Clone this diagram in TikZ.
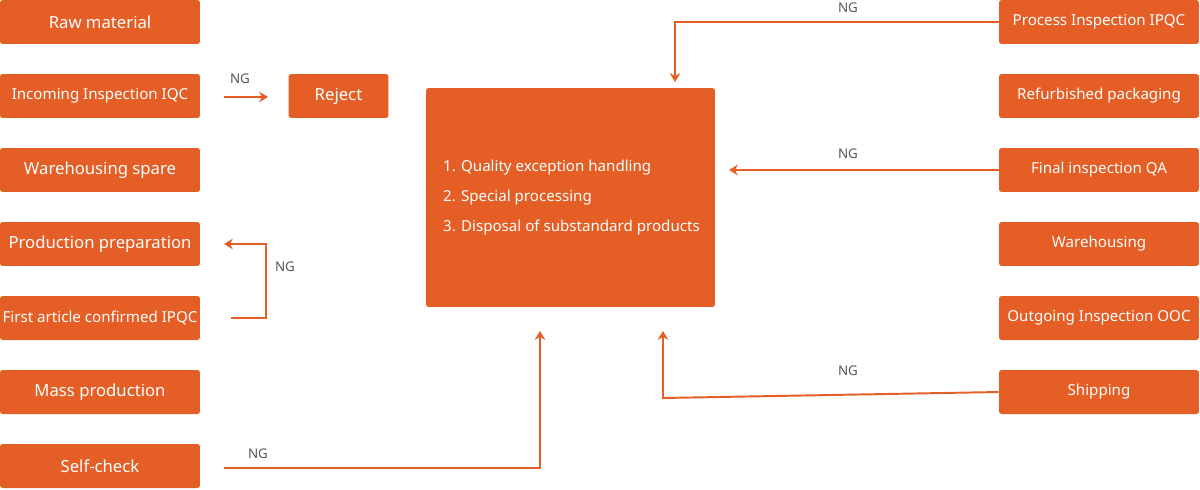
\documentclass[tikz,border=0pt]{standalone}
\usepackage{fontspec}
\setmainfont{Noto Sans}
\usetikzlibrary{arrows.meta, positioning, calc}
\definecolor{qorange}{HTML}{E55E25}
\definecolor{nggray}{HTML}{555555}

\begin{document}
\begin{tikzpicture}[
          x=0.02cm, y=-0.02cm,
          stage/.style={rectangle, rounded corners=1.5pt, fill=qorange, text=white,
            minimum width=4cm, minimum height=0.88cm, inner sep=1pt, font=\fontsize{9.5}{11}\selectfont},
          small/.style={stage, font=\fontsize{8.6}{10}\selectfont},
          flow/.style={draw=qorange, line width=1.1pt, -{Stealth[length=5pt,width=6pt]}},
          ng/.style={text=nggray, font=\fontsize{7.6}{9}\selectfont}
        ]
        \useasboundingbox (0,0) rectangle (1200,490);
        % left column
        \node [stage] (raw) at (100,22) {Raw material};
        \node [small] (iqc) at (100,96) {Incoming Inspection IQC};
        \node [stage] (spare) at (100,170) {Warehousing spare};
        \node [stage] (prep) at (100,244) {Production preparation};
        \node [small] (first) at (100,318) {First article confirmed IPQC};
        \node [stage] (mass) at (100,392) {Mass production};
        \node [stage] (self) at (100,466) {Self-check};
        \node [stage, minimum width=2cm] (reject) at (338.5,96) {Reject};
        % right column
        \node [small] (ipqc) at (1099,22) {Process Inspection IPQC};
        \node [small] (pack) at (1099,96) {Refurbished packaging};
        \node [small] (qa) at (1099,170) {Final inspection QA};
        \node [small] (ware) at (1099,244) {Warehousing};
        \node [small] (ooc) at (1099,318) {Outgoing Inspection OOC};
        \node [small] (ship) at (1099,392) {Shipping};
        % handling box
        \node [rectangle, rounded corners=1.5pt, fill=qorange, minimum width=5.78cm,
          minimum height=4.38cm] (handle) at (570.5,197.5) {};
        \node [anchor=west, text=white, align=left, font=\fontsize{8.6}{17}\selectfont]
          (list) at (437,197.5) {1. Quality exception handling\\2. Special processing\\3. Disposal of substandard products};
        % connectors
        \coordinate (iqcA) at (224,97);
        \coordinate (rejA) at (268,97);
        \draw [flow] (iqcA) -- (rejA);
        \node [ng] at (240,79) {NG};
        \coordinate (firstA) at (231,318);
        \coordinate (prepA) at (224,244);
        \draw [flow] (firstA) -- (266,318) -- (266,244) -- (prepA);
        \node [ng] at (285,267) {NG};
        \coordinate (selfA) at (224,468);
        \coordinate (handleB) at (540,331);
        \draw [flow] (selfA) -- (540,468) -- (handleB);
        \node [ng] at (258,454) {NG};
        \draw [flow] (ipqc.west) -- (675,22) -- (675,82);
        \node [ng] at (848,8) {NG};
        \draw [flow] (qa.west) -- (729,170);
        \node [ng] at (848,154) {NG};
        \draw [flow] (ship.west) -- (663,398) -- (663,331);
        \node [ng] at (848,371) {NG};
\end{tikzpicture}
\end{document}
